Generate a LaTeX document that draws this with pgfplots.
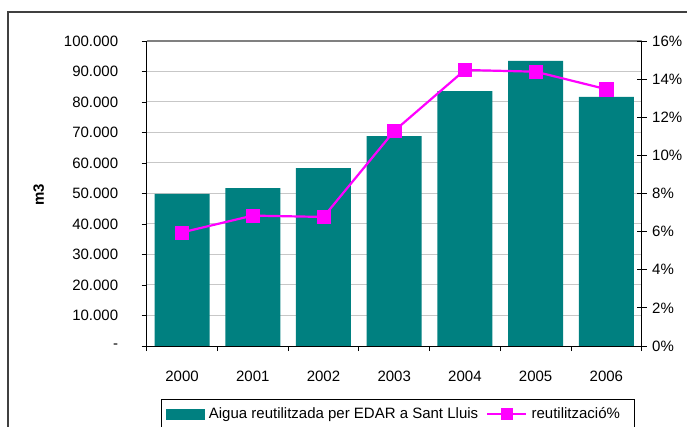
\documentclass[border=0pt]{standalone}
\usepackage{pgfplots}
\pgfplotsset{compat=1.18}
\usepackage{fontspec}
\setmainfont{Liberation Sans}
\definecolor{barteal}{HTML}{008080}
\definecolor{linemag}{HTML}{FF00FF}
\newcommand\fs{\fontsize{15bp}{17bp}\selectfont}
\begin{document}
\begin{tikzpicture}[font=\fs]
\useasboundingbox (0,0) rectangle (687bp,427bp);
\draw[line width=1.4bp, color=black!75] (8bp,-20bp) rectangle (720bp,415bp);
\begin{axis}[
  at={(146.7bp,81bp)}, anchor=south west,
  scale only axis, width=495bp, height=305bp,
  xmin=-0.5, xmax=6.5, ymin=0, ymax=100000,
  scaled y ticks=false,
  axis x line*=bottom, axis y line*=left,
  axis line style={line width=1bp, black, -},
  xtick={-0.5,0.5,...,6.5}, xticklabels={},
  extra x ticks={0,1,2,3,4,5,6},
  extra x tick labels={2000,2001,2002,2003,2004,2005,2006},
  extra x tick style={major tick length=0pt, xticklabel style={yshift=-22bp}},
  ytick={0,10000,...,100000},
  yticklabels={-,10.000,20.000,30.000,40.000,50.000,60.000,70.000,80.000,90.000,100.000},
  yticklabel style={xshift=-20bp},
  tick align=outside, major tick length=5bp,
  tick style={black, line width=0.8bp},
  ymajorgrids, grid style={color=black!22, line width=1bp},
  tick label style={font=\fs},
  every axis y label/.style={at={(axis description cs:-0.2182,0.4967)}, rotate=90, anchor=center, font=\fs\bfseries},
  ylabel={m3},
  bar width=55bp,
]
\addplot[ybar, fill=barteal, draw=none] coordinates {
(0,49850) (1,51800) (2,58350) (3,68850) (4,83600) (5,93450) (6,81650)};
\draw[black!50, line width=1.2bp] (axis cs:-0.5,100000) -- (axis cs:6.5,100000);
\end{axis}
\begin{axis}[
  at={(146.7bp,81bp)}, anchor=south west,
  scale only axis, width=495bp, height=305bp,
  xmin=-0.5, xmax=6.5, ymin=0, ymax=16,
  axis x line=none, axis y line*=right,
  axis line style={line width=1bp, black, -},
  ytick={0,2,...,16},
  yticklabels={0\%,2\%,4\%,6\%,8\%,10\%,12\%,14\%,16\%},
  yticklabel style={xshift=2bp},
  tick align=center, major tick length=10bp,
  tick style={black, line width=0.8bp},
  tick label style={font=\fs},
  legend columns=2,
  legend style={at={(axis description cs:0.0283,-0.1748)}, anchor=north west,
    draw=black, line width=0.8bp, fill=white, font=\fs, inner xsep=5bp, inner ysep=8bp,
    column sep=0pt, nodes={inner sep=0pt}},
]
\addlegendimage{legend image code/.code={\fill[barteal] (0bp,-5bp) rectangle (38bp,5bp);}}
\addlegendentry{\kern4bp Aigua reutilitzada per EDAR a Sant Lluis\kern8bp\relax}
\addplot[color=linemag, line width=2.2bp, mark=square*, mark size=6.6bp,
  mark options={fill=linemag, draw=linemag, line width=0.5bp},
  legend image code/.code={\draw[linemag, line width=2.4bp] (0bp,0bp) -- (39bp,0bp); \fill[linemag] (14.5bp,-5bp) rectangle (24.5bp,5bp);}]
  coordinates {(0,5.96) (1,6.84) (2,6.77) (3,11.28) (4,14.48) (5,14.39) (6,13.47)};
\addlegendentry{\kern4bp reutilitzaci\'o\%\kern9bp\relax}
\end{axis}
\end{tikzpicture}
\end{document}
